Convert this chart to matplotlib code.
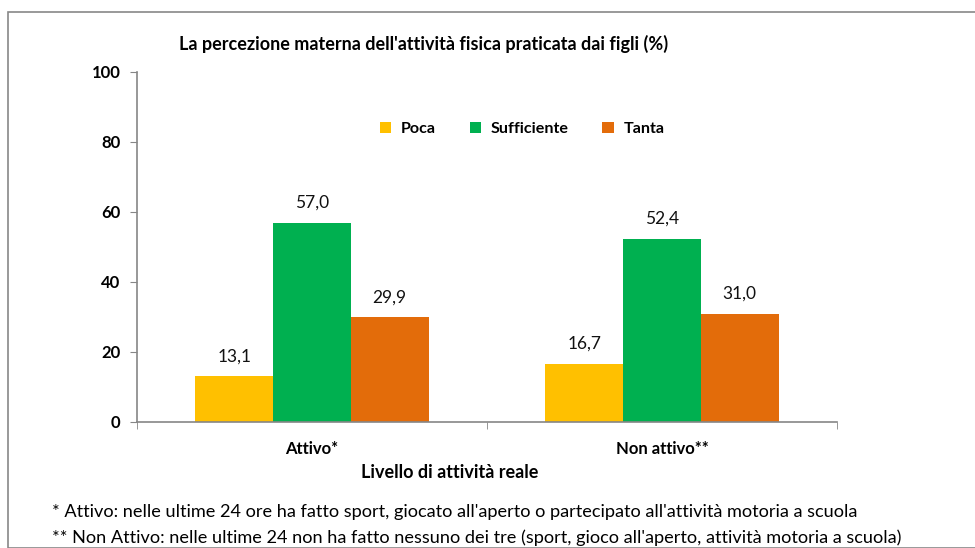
import numpy as np
import matplotlib.pyplot as plt
from matplotlib.patches import Rectangle

# Data
groups = ['Attivo*', 'Non attivo**']
series = ['Poca', 'Sufficiente', 'Tanta']
values = {
    'Poca': [13.1, 16.7],
    'Sufficiente': [57.0, 52.4],
    'Tanta': [29.9, 31.0],
}
colors = ['#FFC000', '#00B050', '#E36C0A']

title = "La percezione materna dell'attività fisica praticata dai figli (%)"
xlabel = 'Livello di attività reale'
notes = [
    "* Attivo: nelle ultime 24 ore ha fatto sport, giocato all'aperto o partecipato all'attività motoria a scuola",
    "** Non Attivo: nelle ultime 24 non ha fatto nessuno dei tre (sport, gioco all'aperto, attività motoria a scuola)",
]

plt.rcParams['font.family'] = ['Lato', 'DejaVu Sans']

W, H = 975, 548
fig = plt.figure(figsize=(W / 100, H / 100), dpi=100)

# outer chart frame (runs off the right/bottom edge)
fig.patches.append(Rectangle((8 / W, 0), 1.2, 1 - 12 / H, transform=fig.transFigure,
                             fill=False, edgecolor='#888888', linewidth=1.2))

ax = fig.add_axes([137 / W, 1 - 422 / H, (837 - 137) / W, (422 - 72) / H])

x = np.arange(len(groups))
bw = 0.222
for i, (s, c) in enumerate(zip(series, colors)):
    pos = x + (i - 1) * bw
    bars = ax.bar(pos, values[s], bw, color=c, label=s, zorder=2)
    for b, v in zip(bars, values[s]):
        ax.text(b.get_x() + b.get_width() / 2, v + 3.3, f'{v:.1f}'.replace('.', ','),
                ha='center', va='bottom', fontsize=12.5, color='#111111')

ax.set_xlim(-0.5, 1.5)
ax.set_ylim(0, 100)
ax.set_yticks(range(0, 101, 20))
ax.set_yticklabels([str(t) for t in range(0, 101, 20)], fontsize=12, fontweight='bold')
ax.set_xticks(x)
ax.set_xticklabels(groups, fontsize=12, fontweight='bold')
ax.tick_params(axis='x', length=0, pad=14)
ax.set_xticks([-0.5, 0.5, 1.5], minor=True)
ax.tick_params(axis='x', which='minor', length=5, color='#868686', direction='out')
ax.tick_params(axis='y', length=5, color='#868686', pad=7)

for side in ['top', 'right']:
    ax.spines[side].set_visible(False)
for side in ['left', 'bottom']:
    ax.spines[side].set_color('#868686')
    ax.spines[side].set_linewidth(1.2)

ax.legend(loc='center', bbox_to_anchor=(0.55, 0.837), ncol=3, frameon=False,
          prop={'weight': 'bold', 'size': 11.6}, handlelength=0.7, handleheight=0.7,
          columnspacing=2.1, handletextpad=0.6)

fig.text(424 / W, 1 - 44 / H, title, ha='center', va='center', fontsize=13, fontweight='bold')
fig.text(450 / W, 1 - 472 / H, xlabel, ha='center', va='center', fontsize=13, fontweight='bold')
fig.text(52 / W, 1 - 512 / H, notes[0], ha='left', va='center', fontsize=13.1)
fig.text(52 / W, 1 - 538 / H, notes[1], ha='left', va='center', fontsize=13.1)

fig.savefig('out.png', dpi=100)
